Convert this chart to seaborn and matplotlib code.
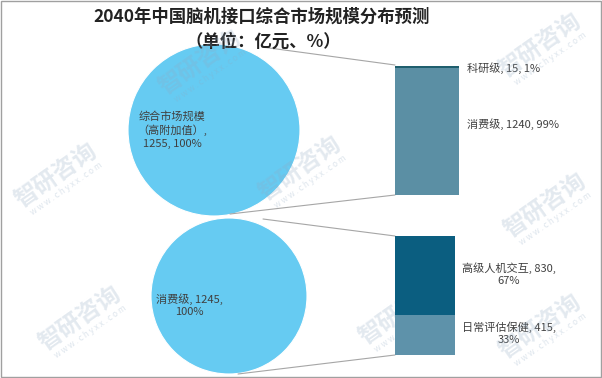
import matplotlib.pyplot as plt
import matplotlib.patches as mpatches
import seaborn as sns

sns.set_style("white")
plt.rcParams['font.family'] = ['Noto Sans CJK SC', 'DejaVu Sans']

# data
title = "2040年中国脑机接口综合市场规模分布预测"
subtitle = "（单位：亿元、%）"

pie_labels = ["综合市场规模\n（高附加值）,\n1255, 100%", "消费级, 1245,\n100%"]
pie_values = [1255, 1245]

top_segments = ["消费级", "科研级"]
top_values = [1240, 15]
top_shares = ["99%", "1%"]

bottom_segments = ["日常评估保健", "高级人机交互"]
bottom_values = [415, 830]
bottom_shares = ["33%", "67%"]

pie_color = "#66CBF2"
top_colors = ["#5B8FA4", "#1F5F6E"]
bottom_colors = ["#5E92AA", "#0B5E80"]
text_color = "#404040"
line_color = "#A6A6A6"

W, H = 602, 378
fig = plt.figure(figsize=(W / 100, H / 100), dpi=100)
ax = fig.add_axes([0, 0, 1, 1])

# pies
ax.pie([pie_values[0]], center=(214, 130), radius=86, colors=[pie_color],
       wedgeprops=dict(edgecolor="white", linewidth=0.8))
ax.pie([pie_values[1]], center=(229, 296), radius=78, colors=[pie_color],
       wedgeprops=dict(edgecolor="white", linewidth=0.8))
ax.set_aspect("auto")
ax.set_xlim(0, W)
ax.set_ylim(H, 0)
ax.axis("off")

ax.text(172, 130, pie_labels[0], ha="center", va="center", fontsize=8,
        color=text_color, linespacing=1.3)
ax.text(189, 305, pie_labels[1], ha="center", va="center", fontsize=8,
        color=text_color, linespacing=1.3)


# stacked bars
def stacked_bar(rect, values, colors):
    bax = fig.add_axes(rect)
    bottom = 0
    for v, c in zip(values, colors):
        bax.bar(0, v, bottom=bottom, width=1, color=c, edgecolor="none")
        bottom += v
    bax.set_xlim(-0.5, 0.5)
    bax.set_ylim(0, sum(values))
    bax.axis("off")
    return bax


stacked_bar([395 / W, 1 - 195 / H, 64 / W, 129 / H], top_values, top_colors)
stacked_bar([395 / W, 1 - 355 / H, 60 / W, 119 / H], bottom_values, bottom_colors)

# connector lines
for (x0, y0), (x1, y1) in [((262, 47), (395, 65)), ((230, 214), (395, 195)),
                           ((263, 219), (395, 236)), ((238, 374), (395, 355))]:
    ax.plot([x0, x1], [y0, y1], color=line_color, lw=0.8)

# bar labels
ax.text(467, 68, f"{top_segments[1]}, {top_values[1]}, {top_shares[1]}",
        ha="left", va="center", fontsize=8, color=text_color)
ax.text(467, 124, f"{top_segments[0]}, {top_values[0]}, {top_shares[0]}",
        ha="left", va="center", fontsize=8, color=text_color)
ax.text(509, 274, f"{bottom_segments[1]}, {bottom_values[1]},\n{bottom_shares[1]}",
        ha="center", va="center", fontsize=8, color=text_color, linespacing=1.3)
ax.text(509, 333, f"{bottom_segments[0]}, {bottom_values[0]},\n{bottom_shares[0]}",
        ha="center", va="center", fontsize=8, color=text_color, linespacing=1.3)

# titles
ax.text(262, 17, title, ha="center", va="center", fontsize=12.5,
        fontweight="bold", color="#222222")
ax.text(263, 42, subtitle, ha="center", va="center", fontsize=12.5,
        fontweight="bold", color="#222222")

# watermarks
for x, y in [(200, 62), (56, 175), (300, 168), (80, 318), (540, 45),
             (545, 205), (400, 312), (540, 326)]:
    ax.text(x, y, "智研咨询", ha="center", va="center", fontsize=17,
            rotation=35, color="#8FA9C2", alpha=0.25, fontweight="bold")
    ax.text(x + 10, y + 14, "w w w . c h y x x . c o m", ha="center",
            va="center", fontsize=6, rotation=35, color="#8FA9C2", alpha=0.3)

# frame
fig.patches.append(mpatches.Rectangle((0.001, 0.002), 0.997, 0.995,
                                      transform=fig.transFigure, fill=False,
                                      edgecolor="#A0A0A0", lw=1))

fig.savefig("out.png", dpi=100)
